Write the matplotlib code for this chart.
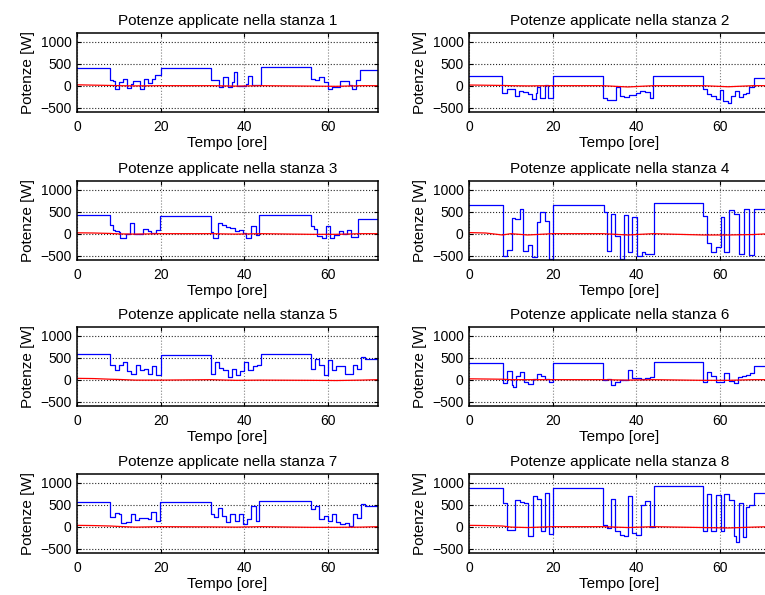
import numpy as np
import matplotlib.pyplot as plt

plt.rcParams['font.family'] = ['Liberation Sans', 'DejaVu Sans']
plt.rcParams['font.size'] = 10

# potenza applicata (blu): istanti di cambio [ore] e livelli [W]
t1 = [0, 8, 8.5, 9, 10, 11, 12, 13, 13.5, 15, 16, 17, 18, 18.6, 20, 32, 34, 35, 36, 37,
      37.5, 38.3, 40.5, 41, 41.8, 44, 56, 57, 58, 59, 60, 61, 63, 65, 65.8, 66.7, 67.6]
p1 = [400, 120, 110, -70, 80, 160, -50, 45, 100, -80, 160, 60, 160, 250, 410, 120, -30, 200, -30, 80,
      310, -10, 45, 230, 10, 425, 160, 120, 200, 80, -70, -30, 100, 20, -70, 140, 350]

t2 = [0, 8, 8.6, 9.1, 11, 12, 13, 14, 15, 16, 16.2, 17, 18.2, 19, 20, 32, 33, 35.2, 36, 37,
      38.2, 40, 41, 42.2, 43.3, 44, 56, 57, 58, 59, 60, 60.8, 61.9, 62.7, 63.7, 64.7, 65.5, 66.3, 67, 68.1]
p2 = [215, -160, -175, -85, -235, -120, -145, -200, -295, -175, -20, -290, 20, -270, 210, -270, -325, -20, -235, -250,
      -210, -160, -120, -145, -290, 215, -70, -200, -235, -310, -100, -350, -385, -235, -120, -250, -200, -175, -20, 180]

t3 = [0, 8, 8.5, 9, 10, 10.4, 11.8, 12.6, 13.7, 15.8, 16.9, 17.8, 18.8, 19.8, 32, 32.5, 33.7, 34.7, 35.7, 36.7,
      37.7, 38.7, 39.7, 40.5, 41.7, 42.7, 43.5, 56, 56.7, 57.5, 58.5, 59.5, 60.5, 61.4, 62.6, 63.6, 64.6, 65.6, 67.3]
p3 = [415, 190, 75, 50, 40, -90, -15, 240, 0, 115, 60, 15, 75, 405, 40, -110, 250, 190, 150, 130,
      60, 90, 15, -110, 165, -40, 420, 165, 115, -60, -90, 165, -90, -40, 50, -15, 90, -75, 335]

t4 = [0, 8.2, 9.1, 10.2, 11, 12.2, 13, 14.2, 15, 16.2, 17.1, 18.2, 19.2, 20.2, 32.2, 33, 34, 35, 36, 37,
      38, 39, 40.2, 41.3, 42.2, 44.2, 56, 57, 58, 59, 60.3, 61, 62.3, 63.3, 64.7, 65.9, 67, 68.1]
p4 = [650, -520, -365, 350, 330, 560, -385, -260, -540, 270, 485, 295, -575, 660, 485, -385, 450, -45, -575, 425,
      -425, 370, -520, -425, -460, 690, 410, -220, -425, -310, 385, -425, 540, 450, -460, 560, -480, 560]

t5 = [0, 8, 9, 10, 11, 12, 13, 14, 15, 16, 17, 18, 19, 20, 32, 33, 34, 35, 36, 37,
      38, 39, 40, 41, 42, 43, 44, 56, 57, 58, 59, 60, 61, 62, 64, 66, 67, 68, 69]
p5 = [575, 340, 230, 340, 395, 205, 135, 340, 230, 245, 135, 300, 115, 570, 135, 395, 265, 230, 60, 245,
      115, 190, 410, 230, 300, 340, 590, 245, 470, 340, 100, 455, 215, 300, 135, 340, 245, 515, 480]

t6 = [0, 8.2, 9.1, 10.2, 10.6, 11.2, 12.2, 13.1, 14.2, 15.2, 16.2, 17.2, 18.2, 19.2, 20.2, 32, 33, 34, 35, 36,
      38, 39, 40, 41.2, 42.2, 43.3, 44.2, 56, 57, 58, 59, 60.3, 61, 62.3, 63.3, 64.3, 65.3, 66.3, 67.3, 68.1]
p6 = [385, -85, 195, -120, -160, 85, 165, -45, -100, 15, 130, 85, 5, -45, 380, -10, 15, -120, -45, -10,
      220, 30, 45, 5, 30, 55, 400, -45, 180, 85, -45, -60, 145, -30, -85, 70, 85, 105, 160, 320]

t7 = [0, 8, 9, 10, 10.6, 11.8, 12.9, 13.8, 14.9, 16.9, 17.8, 18.8, 19.8, 32, 32.8, 33.7, 34.7, 35.7, 36.7, 37.7,
      38.7, 39.7, 40.7, 41.7, 42.7, 43.6, 56, 57, 58, 59, 60, 61, 62, 63, 64, 65, 66, 67, 68, 69]
p7 = [570, 225, 320, 300, 75, 100, 300, 150, 190, 175, 340, 130, 570, 300, 225, 415, 250, 115, 290, 130,
      300, 60, 175, 475, 130, 595, 395, 470, 175, 250, 130, 300, 115, 60, 75, 25, 300, 190, 510, 480]

t8 = [0, 8.2, 9.1, 10.2, 11, 12.2, 13.1, 14.2, 15.2, 16.2, 17.2, 18.2, 19.2, 20.2, 32, 33, 34, 35, 36, 37,
      38, 39, 40, 41.2, 42.2, 43.3, 44.2, 56, 57, 58, 59, 60.2, 61, 62.3, 63.3, 63.9, 64.5, 65.5, 66.3, 67, 68.1]
p8 = [870, 545, -70, -85, 615, 560, 545, -210, 700, 635, -105, 775, -160, 880, 30, -30, 635, -105, -180, -210,
      700, -135, -180, 485, 575, -10, 920, -105, 735, -105, 720, -105, 735, 600, -210, -350, 545, -235, 450, 500, 760]

# potenza di disturbo (rosso), campionata negli stessi istanti per tutte le stanze
red_t = [0, 4, 8, 10, 14, 20, 32, 38, 44, 56, 62, 68, 72]
r1 = [20, 12, 5, 0, -5, 0, 0, -10, 0, -10, -15, 0, 0]
r2 = [15, 10, 5, 0, -5, 0, 0, -30, 0, 0, -25, 0, 0]
r3 = [20, 15, 5, -5, -10, 0, 0, -10, 0, -15, -15, 0, 0]
r4 = [25, 15, -30, 0, -30, 0, 0, -30, 0, -30, -30, -20, 0]
r5 = [30, 25, 10, 5, -10, -10, 0, -15, -10, -15, -20, -10, 0]
r6 = [20, 15, 10, 0, 0, 0, 0, -10, 0, -15, -15, 0, 0]
r7 = [30, 25, 15, 5, -10, 0, -5, -10, 0, -15, -15, -10, 0]
r8 = [30, 25, 15, -10, -20, 0, 0, -20, 0, -20, -30, -10, 0]

rooms = [(t1, p1, r1), (t2, p2, r2), (t3, p3, r3), (t4, p4, r4),
         (t5, p5, r5), (t6, p6, r6), (t7, p7, r7), (t8, p8, r8)]

t_end = 72
x_ticks = [0, 20, 40, 60]
y_ticks = [-500, 0, 500, 1000]

fig = plt.figure(figsize=(7.65, 5.95), dpi=100)

# griglia 4x2 di assi, posizioni in pixel
col_left = [77, 469]
row_top = [33, 181, 327, 474]
W, H = 301, 79

for i, (t, p, r) in enumerate(rooms):
    row, col = divmod(i, 2)
    ax = fig.add_axes([col_left[col] / 765, 1 - (row_top[row] + H) / 595, W / 765, H / 595])

    ax.plot(np.append(t, t_end), np.append(p, p[-1]), drawstyle='steps-post', color='b', lw=0.9)
    ax.plot(red_t, r, color='r', lw=0.9)

    ax.set_xlim(0, t_end)
    ax.set_ylim(-600, 1200)
    ax.set_xticks(x_ticks)
    ax.set_yticks(y_ticks)
    ax.xaxis.grid(True, linestyle=':', color='0.5', lw=0.8)
    ax.yaxis.grid(True, linestyle=':', color='0.15', lw=0.8)
    ax.tick_params(direction='in', top=True, right=True, length=3, width=0.8, labelsize=10)
    ax.tick_params(axis='x', pad=6)
    ax.tick_params(axis='y', pad=4)
    for s in ax.spines.values():
        s.set_linewidth(1.1)

    ax.set_title(f'Potenze applicate nella stanza {i + 1}', fontsize=11, pad=6)
    ax.set_xlabel('Tempo [ore]', fontsize=11, labelpad=1)
    ax.set_ylabel('Potenze [W]', fontsize=11, labelpad=4)

plt.savefig('out.png', dpi=100)
